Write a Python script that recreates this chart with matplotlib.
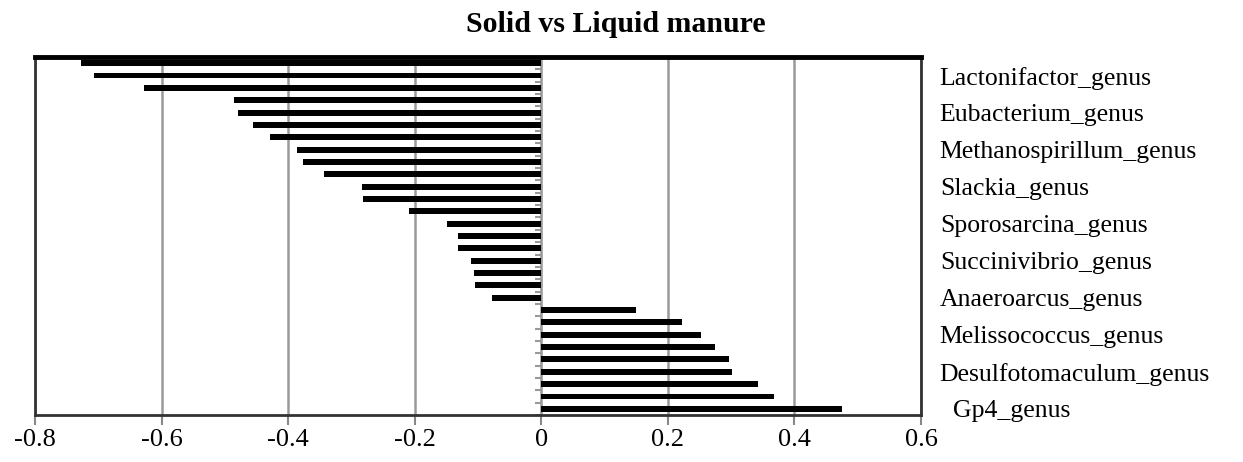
import numpy as np
import matplotlib
matplotlib.use('Agg')
import matplotlib.pyplot as plt
from matplotlib.ticker import FixedLocator

plt.rcParams['font.family'] = ['Liberation Serif', 'DejaVu Serif']

# values from bottom (first category) to top
values = [0.475, 0.367, 0.343, 0.301, 0.296, 0.274, 0.253, 0.223, 0.150,
          -0.078, -0.105, -0.106, -0.111, -0.131, -0.132, -0.149, -0.209,
          -0.281, -0.283, -0.344, -0.376, -0.386, -0.428, -0.456, -0.479,
          -0.486, -0.628, -0.706, -0.727]
# only every third category name is printed on the chart
label_pos = [0, 3, 6, 9, 12, 15, 18, 21, 24, 27]
label_names = ['  Gp4_genus', 'Desulfotomaculum_genus', 'Melissococcus_genus',
               'Anaeroarcus_genus', 'Succinivibrio_genus', 'Sporosarcina_genus',
               'Slackia_genus', 'Methanospirillum_genus', 'Eubacterium_genus',
               'Lactonifactor_genus']
x_ticks = [-0.8, -0.6, -0.4, -0.2, 0, 0.2, 0.4, 0.6]
x_labels = ['-0.8', '-0.6', '-0.4', '-0.2', '0', '0.2', '0.4', '0.6']

fig = plt.figure(figsize=(12.43, 4.62), dpi=100)
ax = fig.add_axes([35/1243, 1-415/462, (921-35)/1243, (415-57)/462])

y = np.arange(len(values))
ax.barh(y, values, height=0.48, color='black', zorder=3)

ax.set_xlim(-0.8, 0.6)
ax.set_ylim(-0.5, len(values) - 0.5)

# vertical grid
ax.set_xticks(x_ticks)
ax.set_xticklabels(x_labels)
ax.grid(axis='x', color='#9a9a9a', linewidth=1.8, zorder=1)
ax.grid(axis='y', visible=False)
ax.tick_params(axis='x', direction='out', length=7, width=1.5, color='#888888',
               labelsize=19, pad=3)

# category labels on the right side
ax.set_yticks(label_pos)
ax.set_yticklabels(label_names)
ax.tick_params(axis='y', which='major', left=False, right=False,
               labelleft=False, labelright=True, labelsize=18.5, pad=10)
for lab in ax.get_yticklabels():
    lab.set_horizontalalignment('left')

# frame
for s in ['bottom', 'left', 'right']:
    ax.spines[s].set_color('#333333')
    ax.spines[s].set_linewidth(2)
ax.spines['top'].set_color('black')
ax.spines['top'].set_linewidth(3.5)

# category axis at zero with short tick marks between bars
sec = ax.secondary_yaxis(0, transform=ax.transData)
sec.spines['left'].set_color('#999999')
sec.spines['left'].set_linewidth(1)
sec.set_yticks([])
sec.yaxis.set_minor_locator(FixedLocator(np.arange(-0.5, len(values), 1.0)))
sec.tick_params(which='minor', direction='out', length=4, width=1.5,
                color='#999999')

fig.text(616/1243, 1-25/462, 'Solid vs Liquid manure', ha='center', va='center',
         fontsize=21.5, fontweight='bold')

fig.savefig('out.png', dpi=100)
